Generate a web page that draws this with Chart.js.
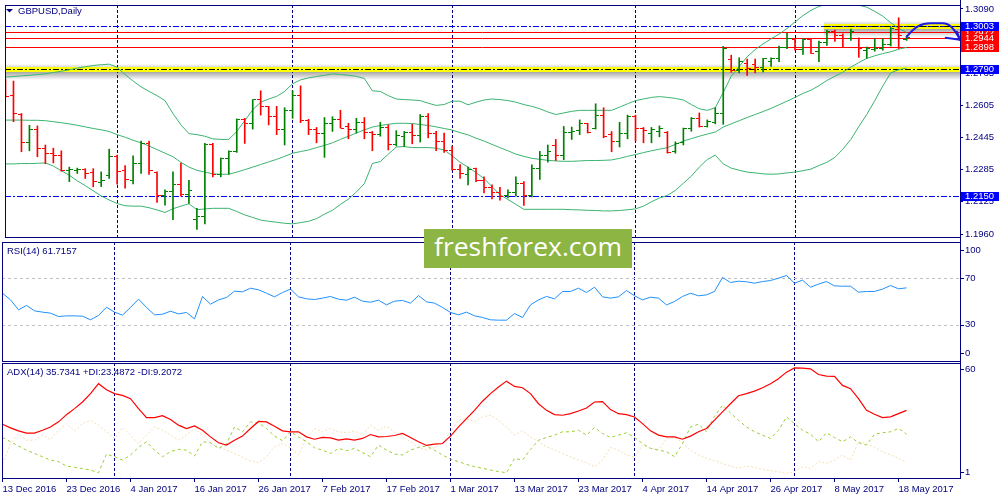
<!DOCTYPE html>
<html>
<head>
<meta charset="utf-8">
<title>GBPUSD, Daily</title>
<script src="https://cdn.jsdelivr.net/npm/chart.js@4.4.1/dist/chart.umd.min.js"></script>
<style>
  html, body { margin:0; padding:0; background:#ffffff; }
  body { width:1000px; height:500px; position:relative; overflow:hidden; }
  canvas { position:absolute; left:0; display:block; }
  #logo { position:absolute; left:424px; top:229px; width:208px; height:39px; background:#8db543; z-index:5; overflow:hidden; }
  #logo span { position:absolute; left:10px; top:0; font-family:"Open Sans", sans-serif; font-size:26px; line-height:34px; color:#ffffff; white-space:nowrap; transform-origin:0 0; }
</style>
</head>
<body>
<canvas id="mainChart" width="1000" height="242" style="top:0"></canvas>
<canvas id="rsiChart" width="1000" height="121" style="top:241px"></canvas>
<canvas id="adxChart" width="1000" height="138" style="top:362px"></canvas>
<div id="logo"><span id="logoText">freshforex.com</span></div>
<script>
// ---------------- DATA ----------------
const dates = [
"13 Dec 2016","14 Dec 2016","15 Dec 2016","16 Dec 2016","19 Dec 2016","20 Dec 2016","21 Dec 2016","22 Dec 2016","23 Dec 2016","26 Dec 2016","27 Dec 2016","28 Dec 2016","29 Dec 2016","30 Dec 2016",
"2 Jan 2017","3 Jan 2017","4 Jan 2017","5 Jan 2017","6 Jan 2017","9 Jan 2017","10 Jan 2017","11 Jan 2017","12 Jan 2017","13 Jan 2017","16 Jan 2017","17 Jan 2017","18 Jan 2017","19 Jan 2017","20 Jan 2017","23 Jan 2017","24 Jan 2017","25 Jan 2017","26 Jan 2017","27 Jan 2017","30 Jan 2017","31 Jan 2017",
"1 Feb 2017","2 Feb 2017","3 Feb 2017","6 Feb 2017","7 Feb 2017","8 Feb 2017","9 Feb 2017","10 Feb 2017","13 Feb 2017","14 Feb 2017","15 Feb 2017","16 Feb 2017","17 Feb 2017","20 Feb 2017","21 Feb 2017","22 Feb 2017","23 Feb 2017","24 Feb 2017","27 Feb 2017","28 Feb 2017",
"1 Mar 2017","2 Mar 2017","3 Mar 2017","6 Mar 2017","7 Mar 2017","8 Mar 2017","9 Mar 2017","10 Mar 2017","13 Mar 2017","14 Mar 2017","15 Mar 2017","16 Mar 2017","17 Mar 2017","20 Mar 2017","21 Mar 2017","22 Mar 2017","23 Mar 2017","24 Mar 2017","27 Mar 2017","28 Mar 2017","29 Mar 2017","30 Mar 2017","31 Mar 2017",
"3 Apr 2017","4 Apr 2017","5 Apr 2017","6 Apr 2017","7 Apr 2017","10 Apr 2017","11 Apr 2017","12 Apr 2017","13 Apr 2017","14 Apr 2017","17 Apr 2017","18 Apr 2017","19 Apr 2017","20 Apr 2017","21 Apr 2017","24 Apr 2017","25 Apr 2017","26 Apr 2017","27 Apr 2017","28 Apr 2017",
"1 May 2017","2 May 2017","3 May 2017","4 May 2017","5 May 2017","8 May 2017","9 May 2017","10 May 2017","11 May 2017","12 May 2017","15 May 2017","16 May 2017","17 May 2017","18 May 2017","19 May 2017"
];
const dateTickIdx = [0,8,16,24,32,40,48,56,64,72,80,88,96,104,112];

const open = [
1.2720,1.2658,1.2562,1.2418,1.2484,1.2391,1.2365,1.2356,1.2278,1.2280,
1.2283,1.2267,1.2219,1.2255,1.2350,1.2277,1.2231,1.2316,1.2415,1.2267,
1.2155,1.2174,1.2207,1.2158,1.2035,1.2047,1.2407,1.2260,1.2337,1.2373,
1.2533,1.2516,1.2634,1.2598,1.2552,1.2484,1.2581,1.2658,1.2529,1.2487,
1.2467,1.2513,1.2537,1.2500,1.2484,1.2519,1.2472,1.2459,1.2495,1.2407,
1.2451,1.2470,1.2454,1.2549,1.2467,1.2426,1.2378,1.2285,1.2260,1.2288,
1.2228,1.2195,1.2166,1.2153,1.2166,1.2215,1.2153,1.2288,1.2353,1.2402,
1.2356,1.2472,1.2479,1.2513,1.2492,1.2557,1.2459,1.2426,1.2467,1.2552,
1.2492,1.2467,1.2475,1.2470,1.2373,1.2418,1.2492,1.2541,1.2500,1.2519,
1.2565,1.2837,1.2780,1.2818,1.2813,1.2796,1.2826,1.2842,1.2896,1.2937,
1.2888,1.2935,1.2875,1.2924,1.2979,1.2956,1.2940,1.2940,1.2883,1.2888,
1.2894,1.2911,1.2989,1.2937];
const high = [
1.2736,1.2728,1.2565,1.2506,1.2503,1.2407,1.2391,1.2378,1.2296,1.2291,
1.2288,1.2288,1.2272,1.2386,1.2356,1.2304,1.2353,1.2427,1.2427,1.2272,
1.2182,1.2272,1.2316,1.2229,1.2089,1.2415,1.2415,1.2342,1.2378,1.2538,
1.2541,1.2635,1.2679,1.2601,1.2601,1.2594,1.2679,1.2704,1.2536,1.2495,
1.2545,1.2549,1.2581,1.2516,1.2541,1.2545,1.2475,1.2521,1.2508,1.2479,
1.2475,1.2511,1.2560,1.2565,1.2475,1.2467,1.2402,1.2309,1.2296,1.2291,
1.2247,1.2207,1.2195,1.2182,1.2247,1.2223,1.2307,1.2375,1.2407,1.2435,
1.2500,1.2497,1.2533,1.2516,1.2614,1.2594,1.2475,1.2521,1.2557,1.2557,
1.2495,1.2495,1.2503,1.2475,1.2423,1.2492,1.2545,1.2568,1.2533,1.2594,
1.2902,1.2858,1.2845,1.2839,1.2839,1.2842,1.2845,1.2904,1.2968,1.2943,
1.2940,1.2940,1.2929,1.2984,1.2984,1.2965,1.2989,1.2945,1.2899,1.2940,
1.2940,1.2997,1.3046,1.2956];
const low = [
1.2647,1.2524,1.2373,1.2378,1.2348,1.2313,1.2317,1.2275,1.2223,1.2264,
1.2239,1.2197,1.2198,1.2239,1.2210,1.2190,1.2212,1.2264,1.2259,1.2119,
1.2105,1.2032,1.2150,1.2114,1.1983,1.2011,1.2247,1.2247,1.2260,1.2370,
1.2415,1.2487,1.2557,1.2508,1.2459,1.2407,1.2541,1.2519,1.2459,1.2418,
1.2345,1.2475,1.2492,1.2438,1.2467,1.2438,1.2378,1.2451,1.2382,1.2402,
1.2399,1.2413,1.2422,1.2443,1.2378,1.2370,1.2280,1.2239,1.2207,1.2223,
1.2166,1.2136,1.2130,1.2141,1.2150,1.2104,1.2146,1.2234,1.2321,1.2329,
1.2333,1.2435,1.2459,1.2467,1.2487,1.2443,1.2373,1.2397,1.2438,1.2427,
1.2418,1.2418,1.2448,1.2366,1.2366,1.2407,1.2476,1.2497,1.2497,1.2513,
1.2511,1.2772,1.2769,1.2756,1.2769,1.2774,1.2801,1.2826,1.2891,1.2883,
1.2862,1.2867,1.2826,1.2907,1.2927,1.2899,1.2932,1.2847,1.2842,1.2878,
1.2883,1.2904,1.2891,1.2932];
const close = [
1.2651,1.2565,1.2418,1.2484,1.2391,1.2365,1.2356,1.2278,1.2285,1.2285,
1.2264,1.2225,1.2228,1.2350,1.2273,1.2234,1.2316,1.2415,1.2280,1.2155,
1.2174,1.2207,1.2158,1.2177,1.2047,1.2407,1.2260,1.2337,1.2373,1.2533,
1.2516,1.2634,1.2598,1.2552,1.2484,1.2581,1.2658,1.2529,1.2487,1.2467,
1.2513,1.2537,1.2492,1.2484,1.2519,1.2472,1.2459,1.2495,1.2407,1.2454,
1.2470,1.2454,1.2549,1.2467,1.2426,1.2378,1.2285,1.2264,1.2285,1.2228,
1.2195,1.2166,1.2150,1.2166,1.2215,1.2153,1.2288,1.2356,1.2373,1.2356,
1.2472,1.2475,1.2513,1.2472,1.2557,1.2451,1.2426,1.2467,1.2552,1.2492,
1.2479,1.2487,1.2492,1.2369,1.2415,1.2489,1.2541,1.2500,1.2524,1.2565,
1.2891,1.2780,1.2826,1.2793,1.2796,1.2839,1.2839,1.2896,1.2943,1.2888,
1.2935,1.2867,1.2924,1.2979,1.2956,1.2940,1.2978,1.2891,1.2891,1.2894,
1.2911,1.2992,1.2956,1.2948];

const bbUpper = [
1.2748,1.2751,1.2754,1.2757,1.2761,1.2764,1.2771,1.2777,1.2785,1.2793,
1.2800,1.2806,1.2810,1.2813,1.2797,1.2761,1.2728,1.2699,1.2676,1.2655,
1.2630,1.2565,1.2508,1.2464,1.2459,1.2451,1.2438,1.2435,1.2435,1.2475,
1.2529,1.2584,1.2622,1.2638,1.2651,1.2676,1.2715,1.2734,1.2744,1.2751,
1.2757,1.2764,1.2761,1.2757,1.2752,1.2741,1.2679,1.2676,1.2655,1.2638,
1.2635,1.2633,1.2630,1.2617,1.2606,1.2610,1.2627,1.2627,1.2609,1.2622,
1.2633,1.2638,1.2635,1.2630,1.2622,1.2610,1.2601,1.2589,1.2573,1.2560,
1.2568,1.2576,1.2581,1.2581,1.2581,1.2581,1.2581,1.2597,1.2614,1.2630,
1.2638,1.2646,1.2650,1.2646,1.2641,1.2633,1.2610,1.2589,1.2581,1.2594,
1.2671,1.2752,1.2801,1.2850,1.2886,1.2915,1.2940,1.2964,1.2992,1.3025,
1.3057,1.3083,1.3103,1.3114,1.3119,1.3119,1.3116,1.3109,1.3099,1.3078,
1.3054,1.3021,1.2992,1.2972];
const bbMiddle = [
1.2532,1.2532,1.2532,1.2531,1.2531,1.2529,1.2524,1.2519,1.2513,1.2506,
1.2498,1.2490,1.2483,1.2475,1.2459,1.2446,1.2431,1.2418,1.2402,1.2384,
1.2366,1.2348,1.2320,1.2296,1.2280,1.2271,1.2262,1.2260,1.2260,1.2271,
1.2283,1.2296,1.2309,1.2322,1.2335,1.2350,1.2366,1.2374,1.2382,1.2394,
1.2405,1.2418,1.2435,1.2451,1.2467,1.2483,1.2497,1.2505,1.2511,1.2516,
1.2516,1.2515,1.2510,1.2505,1.2498,1.2490,1.2482,1.2469,1.2458,1.2441,
1.2427,1.2410,1.2394,1.2378,1.2361,1.2350,1.2340,1.2335,1.2330,1.2327,
1.2325,1.2325,1.2327,1.2329,1.2329,1.2330,1.2332,1.2340,1.2350,1.2359,
1.2369,1.2378,1.2386,1.2394,1.2410,1.2427,1.2439,1.2451,1.2462,1.2472,
1.2497,1.2513,1.2529,1.2545,1.2560,1.2575,1.2591,1.2609,1.2627,1.2646,
1.2666,1.2682,1.2705,1.2731,1.2752,1.2773,1.2798,1.2821,1.2842,1.2855,
1.2866,1.2875,1.2888,1.2897];
const bbLower = [
1.2312,1.2312,1.2314,1.2314,1.2315,1.2317,1.2301,1.2278,1.2255,1.2227,
1.2203,1.2177,1.2151,1.2131,1.2113,1.2102,1.2100,1.2100,1.2092,1.2081,
1.2068,1.2087,1.2100,1.2112,1.2082,1.2086,1.2089,1.2089,1.2089,1.2073,
1.2056,1.2043,1.2030,1.2024,1.2019,1.2014,1.2011,1.2017,1.2024,1.2037,
1.2060,1.2079,1.2109,1.2135,1.2171,1.2213,1.2314,1.2324,1.2361,1.2397,
1.2399,1.2394,1.2394,1.2394,1.2391,1.2382,1.2353,1.2320,1.2296,1.2268,
1.2239,1.2198,1.2158,1.2133,1.2109,1.2084,1.2084,1.2084,1.2084,1.2084,
1.2084,1.2082,1.2081,1.2079,1.2078,1.2076,1.2076,1.2078,1.2082,1.2086,
1.2100,1.2122,1.2141,1.2154,1.2179,1.2215,1.2251,1.2296,1.2334,1.2356,
1.2312,1.2291,1.2280,1.2271,1.2267,1.2262,1.2260,1.2262,1.2267,1.2271,
1.2278,1.2286,1.2304,1.2320,1.2345,1.2386,1.2435,1.2500,1.2560,1.2630,
1.2703,1.2769,1.2785,1.2793];

const rsi = [
57.1,51.4,42.9,46.6,42.0,40.9,40.0,37.1,37.7,37.7,
37.4,34.3,38.0,45.1,40.9,38.3,44.9,52.0,44.9,38.6,
39.1,41.7,39.4,40.6,35.1,54.3,47.7,51.4,53.4,58.9,
58.3,61.4,60.0,57.1,54.0,57.7,60.6,54.0,52.3,51.7,
52.9,54.3,52.0,51.1,53.7,50.3,49.4,51.1,47.1,50.3,
50.9,48.6,55.1,49.7,48.6,44.9,40.6,38.6,40.9,37.7,
36.3,34.3,34.0,34.0,39.7,36.3,47.1,51.4,54.3,52.3,
58.6,58.6,61.4,57.7,62.3,54.0,52.9,54.0,59.4,54.9,
51.4,53.7,52.9,47.1,50.0,54.3,57.1,54.9,55.7,58.6,
70.6,66.3,67.4,66.9,65.7,67.1,68.0,70.0,72.3,65.7,
68.3,62.3,64.9,67.1,63.4,63.1,63.1,58.0,58.6,58.6,
60.6,63.7,60.9,61.7];

const adx = [
28.6,26.7,25.2,24.0,24.0,25.5,27.2,29.8,33.5,36.6,
40.0,44.3,49.4,46.3,44.3,43.4,41.7,36.6,32.0,32.0,
33.0,31.0,28.1,26.4,27.7,25.5,22.1,19.1,17.9,20.4,
22.5,26.4,30.0,29.8,27.6,25.2,24.7,24.7,22.1,20.9,
21.8,21.6,20.4,21.1,20.4,21.3,23.3,22.1,22.3,22.8,
23.9,21.8,19.6,17.7,18.4,18.7,22.5,27.2,31.5,35.7,
40.4,44.3,47.7,50.7,48.0,47.3,44.3,39.1,35.7,33.5,
33.2,34.0,35.4,36.9,40.0,40.2,36.1,34.0,33.5,32.3,
28.9,25.2,23.0,22.1,22.1,20.9,22.5,24.7,26.4,30.7,
34.9,39.1,43.2,44.3,45.6,47.3,49.4,51.9,55.3,57.5,
57.4,57.0,54.1,53.3,53.1,48.5,46.8,41.7,35.7,33.7,
32.0,32.4,34.0,35.7];
const plusDI = [
21.8,19.6,17.4,15.3,13.6,11.9,10.2,9.4,7.1,6.5,
5.8,5.1,3.7,13.3,11.9,10.2,12.8,16.7,19.6,15.3,
11.9,14.5,15.7,15.3,12.3,19.6,19.1,16.2,18.4,27.2,
24.7,29.8,29.3,26.4,22.5,20.1,24.7,22.1,19.6,16.5,
15.3,13.6,16.2,15.0,16.2,14.1,11.9,17.9,15.3,13.3,
12.8,15.3,16.7,17.4,15.3,12.8,10.7,9.4,8.0,6.8,
6.0,5.1,4.3,3.7,11.1,10.2,15.7,20.4,21.8,23.0,
24.7,24.7,25.5,23.0,26.9,23.8,21.8,23.0,24.2,21.8,
18.7,16.2,15.3,14.5,11.9,18.7,27.2,28.6,24.7,32.7,
38.3,34.4,30.6,27.2,24.7,23.0,21.3,25.5,32.3,28.9,
25.5,23.5,19.6,24.2,21.8,19.6,22.1,19.1,17.9,23.5,
24.2,24.7,26.4,23.5];
const minusDI = [
8.2,18.7,23.5,20.4,20.4,23.0,20.8,25.5,28.9,25.2,
28.9,30.6,28.1,24.7,21.3,26.9,23.0,18.7,23.0,27.2,
25.5,23.0,20.4,23.0,26.4,23.0,19.1,16.7,15.3,13.6,
11.6,9.7,8.9,11.9,17.0,18.7,16.5,12.8,21.3,26.4,
24.7,26.4,24.7,24.2,25.2,23.0,28.1,25.5,27.6,24.7,
22.1,19.6,16.7,15.3,16.7,18.7,24.7,30.6,31.5,29.8,
32.4,33.2,30.6,27.2,23.0,25.2,22.1,19.6,17.0,15.3,
13.6,11.9,10.2,8.8,6.8,10.2,16.7,15.3,12.8,11.6,
17.9,16.2,15.7,20.9,21.8,19.1,15.3,12.8,11.1,9.9,
8.5,7.1,6.0,7.1,6.5,5.4,4.8,4.2,3.4,4.2,
6.8,6.0,9.4,8.5,10.2,12.8,10.2,19.6,18.7,16.7,
14.5,12.8,11.1,9.2];

// axis tick labels / levels
const priceTicks = [1.3090, 1.2930, 1.2765, 1.2605, 1.2445, 1.2285, 1.2125, 1.1960];
const rsiTicks = [100, 70, 30, 0];
const rsiLevels = [70, 30];
const adxTicks = [60, 1];
const blueLevels = [1.3003, 1.2150];
const redLevels = [1.2972, 1.2944, 1.2898];
const yellowLevels = [1.2790, 1.3003];
const yellowFrom = [null, 102.6];
const priceBoxes = [
  {v:1.2972, c:'#ff0000'}, {v:1.2944, c:'#ff0000'}, {v:1.2898, c:'#ff0000'},
  {v:1.3003, c:'#0000ff'}, {v:1.2790, c:'#0000ff'}, {v:1.2150, c:'#0000ff'}
];
// hand-drawn forecast arrow (bar index, price)
const arrowPath = [[113.0,1.2950],[114.0,1.3002],[114.8,1.3017],[116.0,1.3018],[117.5,1.3018],[118.4,1.3018],[119.0,1.2990],[119.7,1.2935]];
const arrowHead = [[117.9,1.2946],[119.3,1.2976]];

const titleText = 'GBPUSD,Daily';
const rsiText = 'RSI(14) 61.7157';
const adxText = 'ADX(14) 35.7341 +DI:23.4872 -DI:9.2072';

// ---------------- STYLE ----------------
const NAVY = '#000080';
const GREEN = '#008000';
const RED = '#ff0000';
const BAND = '#3cb371';
const FONT = '"Liberation Sans", Arial, sans-serif';
const FS = 9.5;
const X_MIN = -0.0625, X_MAX = 119.6875;

const isUp = close.map((c, i) => c >= open[i]);

function tickImage(color, left) {
  const c = document.createElement('canvas');
  c.width = 7; c.height = 1;
  const g = c.getContext('2d');
  g.fillStyle = color;
  g.fillRect(left ? 0 : 4, 0, 3, 1);
  return c;
}
const IMG = { gL: tickImage(GREEN, true), gR: tickImage(GREEN, false), rL: tickImage(RED, true), rR: tickImage(RED, false) };

function monthStarts() {
  const r = [];
  for (let i = 1; i < dates.length; i++) {
    if (dates[i].split(' ')[1] !== dates[i - 1].split(' ')[1]) r.push(i);
  }
  return r;
}
function drawMonthLines(chart) {
  const { ctx, chartArea: a, scales: { x } } = chart;
  ctx.save();
  ctx.strokeStyle = NAVY; ctx.lineWidth = 1; ctx.setLineDash([3, 2]);
  monthStarts().forEach(i => {
    const px = Math.round(x.getPixelForValue(i) - 0.5) + 0.5;
    ctx.beginPath(); ctx.moveTo(px, a.top); ctx.lineTo(px, a.bottom); ctx.stroke();
  });
  ctx.restore();
}
function drawFrame(chart, rightLineBottom) {
  const { ctx, chartArea: a } = chart;
  ctx.save();
  ctx.strokeStyle = NAVY; ctx.lineWidth = 1; ctx.setLineDash([]);
  ctx.strokeRect(a.left + 0.5, a.top + 0.5, a.right - a.left, a.bottom - a.top);
  ctx.beginPath(); ctx.moveTo(a.right + 0.5, 0); ctx.lineTo(a.right + 0.5, rightLineBottom); ctx.stroke();
  ctx.restore();
}
function drawRightLabels(chart, vals, inset) {
  const { ctx, chartArea: a, scales: { y } } = chart;
  ctx.save();
  ctx.font = FS + 'px ' + FONT; ctx.fillStyle = NAVY; ctx.strokeStyle = NAVY;
  ctx.textBaseline = 'middle'; ctx.textAlign = 'left'; ctx.lineWidth = 1;
  vals.forEach(v => {
    let py = y.getPixelForValue(v);
    py = Math.min(Math.max(py, a.top + inset), a.bottom - inset);
    const ry = Math.round(py) + 0.5;
    ctx.beginPath(); ctx.moveTo(a.right, ry); ctx.lineTo(a.right + 4, ry); ctx.stroke();
    ctx.fillText(String(v), a.right + 5, py);
  });
  ctx.restore();
}
function drawPanelText(chart, text, x, y) {
  const ctx = chart.ctx;
  ctx.save();
  ctx.font = FS + 'px ' + FONT; ctx.fillStyle = NAVY;
  ctx.textBaseline = 'middle'; ctx.textAlign = 'left';
  ctx.fillText(text, x, y);
  ctx.restore();
}
function hLine(ctx, a, py, color, dash) {
  ctx.strokeStyle = color; ctx.lineWidth = 1; ctx.setLineDash(dash);
  ctx.beginPath(); ctx.moveTo(a.left, py); ctx.lineTo(a.right, py); ctx.stroke();
}

const xScaleHidden = { type: 'linear', min: X_MIN, max: X_MAX, display: false, offset: false, grid: { offset: false } };
const common = {
  responsive: false, animation: false, devicePixelRatio: 1, events: [],
  plugins: { legend: { display: false }, tooltip: { enabled: false } }
};

// ---------------- MAIN PANEL ----------------
const mainDecor = {
  id: 'mainDecor',
  beforeDatasetsDraw(chart) {
    const { ctx, chartArea: a, scales: { x, y } } = chart;
    drawMonthLines(chart);
    ctx.save();
    ctx.beginPath(); ctx.rect(a.left, a.top, a.right - a.left, a.bottom - a.top); ctx.clip();
    // yellow highlighted levels with shadow
    yellowLevels.forEach((lv, k) => {
      const py = Math.round(y.getPixelForValue(lv));
      const x0 = yellowFrom[k] == null ? a.left : x.getPixelForValue(yellowFrom[k]);
      const g = ctx.createLinearGradient(0, py + 3, 0, py + 11);
      g.addColorStop(0, 'rgba(60,60,60,0.45)'); g.addColorStop(1, 'rgba(60,60,60,0)');
      ctx.fillStyle = g; ctx.fillRect(x0, py + 3, a.right - x0, 8);
      const g2 = ctx.createLinearGradient(0, py - 5, 0, py - 2);
      g2.addColorStop(0, 'rgba(60,60,60,0)'); g2.addColorStop(1, 'rgba(60,60,60,0.2)');
      ctx.fillStyle = g2; ctx.fillRect(x0, py - 5, a.right - x0, 3);
      ctx.fillStyle = '#ffff00'; ctx.fillRect(x0, py - 2, a.right - x0, 5);
    });
    redLevels.forEach(v => hLine(ctx, a, Math.round(y.getPixelForValue(v)) + 0.5, '#ff0000', []));
    blueLevels.forEach(v => hLine(ctx, a, Math.round(y.getPixelForValue(v)) + 0.5, '#0000ff', [6, 2, 2, 2]));
    yellowLevels.forEach((lv, k) => {
      const py = Math.round(y.getPixelForValue(lv)) + 0.5;
      const x0 = yellowFrom[k] == null ? a.left : x.getPixelForValue(yellowFrom[k]);
      ctx.strokeStyle = '#000000'; ctx.lineWidth = 1; ctx.setLineDash([6, 2, 2, 2]);
      ctx.beginPath(); ctx.moveTo(x0, py); ctx.lineTo(a.right, py); ctx.stroke();
    });
    ctx.restore();
  },
  afterDatasetsDraw(chart) {
    const { ctx, chartArea: a, scales: { x, y } } = chart;
    // forecast arrow
    const P = p => [x.getPixelForValue(p[0]), y.getPixelForValue(p[1])];
    const pts = arrowPath.map(P);
    ctx.save();
    ctx.strokeStyle = '#1c1ce0'; ctx.lineWidth = 2; ctx.setLineDash([]); ctx.lineCap = 'round';
    ctx.beginPath();
    ctx.moveTo(pts[0][0], pts[0][1]);
    ctx.bezierCurveTo(pts[1][0], pts[1][1], pts[2][0], pts[2][1], pts[3][0], pts[3][1]);
    ctx.lineTo(pts[4][0], pts[4][1]);
    ctx.bezierCurveTo(pts[5][0], pts[5][1], pts[6][0], pts[6][1], pts[7][0], pts[7][1]);
    ctx.stroke();
    arrowHead.map(P).forEach(h => { ctx.beginPath(); ctx.moveTo(h[0], h[1]); ctx.lineTo(pts[7][0], pts[7][1]); ctx.stroke(); });
    ctx.restore();
    drawFrame(chart, chart.height);
    // title
    ctx.save();
    ctx.fillStyle = NAVY;
    ctx.beginPath(); ctx.moveTo(6, 9); ctx.lineTo(13, 9); ctx.lineTo(9.5, 12.5); ctx.closePath(); ctx.fill();
    ctx.restore();
    drawPanelText(chart, titleText, 18, 11);
    // price boxes on axis
    ctx.save();
    ctx.font = FS + 'px ' + FONT; ctx.textBaseline = 'middle'; ctx.textAlign = 'left';
    priceBoxes.forEach(b => {
      const py = y.getPixelForValue(b.v);
      ctx.fillStyle = b.c; ctx.fillRect(a.right + 1, Math.round(py) - 4, 38, 9);
      ctx.fillStyle = '#ffffff'; ctx.fillText(b.v.toFixed(4), a.right + 5, py + 0.5);
    });
    ctx.restore();
  }
};

new Chart(document.getElementById('mainChart'), {
  type: 'line',
  data: {
    datasets: [
      { type: 'scatter', data: open.map((v, i) => ({ x: i, y: v })), showLine: false, pointRadius: 1,
        pointStyle: c => isUp[c.dataIndex] ? IMG.gL : IMG.rL },
      { type: 'scatter', data: close.map((v, i) => ({ x: i, y: v })), showLine: false, pointRadius: 1,
        pointStyle: c => isUp[c.dataIndex] ? IMG.gR : IMG.rR },
      { type: 'bar', data: high.map((h, i) => ({ x: i, y: [low[i], h] })), barThickness: 1, borderWidth: 0,
        backgroundColor: isUp.map(u => u ? GREEN : RED) },
      { type: 'line', data: bbUpper.map((v, i) => ({ x: i, y: v })), borderColor: BAND, borderWidth: 1, pointRadius: 0, fill: false },
      { type: 'line', data: bbMiddle.map((v, i) => ({ x: i, y: v })), borderColor: BAND, borderWidth: 1, pointRadius: 0, fill: false },
      { type: 'line', data: bbLower.map((v, i) => ({ x: i, y: v })), borderColor: BAND, borderWidth: 1, pointRadius: 0, fill: false }
    ]
  },
  options: Object.assign({}, common, {
    layout: { padding: { left: 2, top: 2, right: 0, bottom: 2 } },
    scales: {
      x: xScaleHidden,
      y: {
        position: 'right', min: 1.1945, max: 1.3110,
        afterBuildTicks: s => { s.ticks = priceTicks.map(v => ({ value: v })); },
        afterFit: s => { s.width = 40; s.paddingTop = 0; s.paddingBottom = 0; },
        ticks: { autoSkip: false, color: NAVY, padding: 2, font: { family: FONT, size: FS }, callback: v => Number(v).toFixed(4) },
        grid: { display: true, drawOnChartArea: false, drawTicks: true, tickLength: 3, color: NAVY },
        border: { display: false }
      }
    }
  }),
  plugins: [mainDecor]
});

// ---------------- RSI PANEL ----------------
const rsiDecor = {
  id: 'rsiDecor',
  beforeDatasetsDraw(chart) {
    const { ctx, chartArea: a, scales: { y } } = chart;
    drawMonthLines(chart);
    ctx.save();
    rsiLevels.forEach(v => hLine(ctx, a, Math.round(y.getPixelForValue(v)) + 0.5, '#c0c0c0', [3, 3]));
    ctx.restore();
  },
  afterDraw(chart) {
    drawFrame(chart, chart.height);
    drawRightLabels(chart, rsiTicks, 8);
    drawPanelText(chart, rsiText, 7, 10);
  }
};
new Chart(document.getElementById('rsiChart'), {
  type: 'line',
  data: { datasets: [
    { data: rsi.map((v, i) => ({ x: i, y: v })), borderColor: '#1e90ff', borderWidth: 1, pointRadius: 0, fill: false }
  ] },
  options: Object.assign({}, common, {
    layout: { padding: { left: 2, top: 1, right: 40, bottom: 1 } },
    scales: { x: xScaleHidden, y: { display: false, min: -1, max: 101 } }
  }),
  plugins: [rsiDecor]
});

// ---------------- ADX PANEL ----------------
const adxDecor = {
  id: 'adxDecor',
  beforeDatasetsDraw(chart) { drawMonthLines(chart); },
  afterDraw(chart) {
    drawFrame(chart, chart.chartArea.bottom + 1);
    drawRightLabels(chart, adxTicks, 6);
    drawPanelText(chart, adxText, 7, 10);
  }
};
new Chart(document.getElementById('adxChart'), {
  type: 'line',
  data: { datasets: [
    { data: adx.map((v, i) => ({ x: i, y: v })), borderColor: '#ff0000', borderWidth: 1.2, pointRadius: 0, fill: false },
    { data: plusDI.map((v, i) => ({ x: i, y: v })), borderColor: '#9acd32', borderWidth: 1, borderDash: [3, 3], pointRadius: 0, fill: false },
    { data: minusDI.map((v, i) => ({ x: i, y: v })), borderColor: '#f5deb3', borderWidth: 1, borderDash: [2, 2], pointRadius: 0, fill: false }
  ] },
  options: Object.assign({}, common, {
    layout: { padding: { left: 2, top: 1, right: 40, bottom: 0 } },
    scales: {
      x: {
        type: 'linear', min: X_MIN, max: X_MAX, offset: false,
        afterBuildTicks: s => { s.ticks = dateTickIdx.map(v => ({ value: v })); },
        afterFit: s => { s.height = 22; s.paddingLeft = 0; s.paddingRight = 0; },
        ticks: { autoSkip: false, maxRotation: 0, minRotation: 0, align: 'start', padding: 2, color: NAVY,
                 font: { family: FONT, size: FS }, callback: v => dates[v] },
        grid: { display: true, drawOnChartArea: false, drawTicks: true, tickLength: 4, color: NAVY, offset: false },
        border: { display: false }
      },
      y: { display: false, min: 1, max: 60 }
    }
  }),
  plugins: [adxDecor]
});

// ---------------- LOGO ----------------
const lt = document.getElementById('logoText');
const w = lt.getBoundingClientRect().width;
lt.style.transform = 'scaleX(' + (188 / w) + ')';
</script>
</body>
</html>
